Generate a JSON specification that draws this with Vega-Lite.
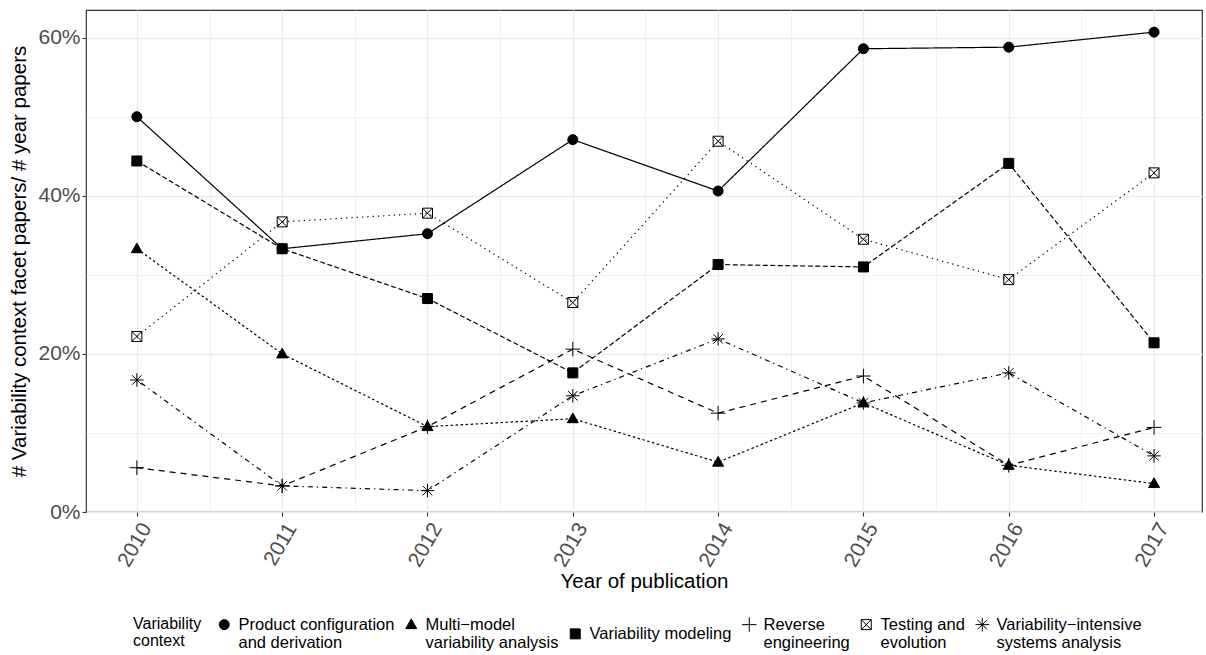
{
  "$schema": "https://vega.github.io/schema/vega-lite/v6.json",
  "width": 1116,
  "height": 502,
  "autosize": {"type": "none"},
  "padding": {"left": 86, "top": 10, "right": 4, "bottom": 143},
  "background": "white",
  "config": {
    "font": "Liberation Sans",
    "view": {"stroke": "#333333", "strokeWidth": 1.2},
    "axis": {
      "domain": false,
      "gridColor": "#EBEBEB",
      "tickColor": "#333333",
      "tickWidth": 1.1,
      "tickSize": 4,
      "labelColor": "#4D4D4D",
      "labelFontSize": 21,
      "titleFontSize": 20.5,
      "titleFontWeight": "normal",
      "titleColor": "#000000"
    },
    "legend": {
      "direction": "horizontal",
      "titleOrient": "left",
      "titleAnchor": "start",
      "titleFontSize": 16,
      "titleFontWeight": "normal",
      "titleColor": "#000000",
      "titlePadding": 14,
      "titleLineHeight": 16.5,
      "titleBaseline": "top",
      "labelFontSize": 16.5,
      "labelColor": "#000000",
      "labelLimit": 400,
      "labelOffset": 6,
      "labelLineHeight": 16.5,
      "labelBaseline": "middle",
      "columnPadding": 8,
      "symbolSize": 100,
      "symbolStrokeColor": "#000000",
      "symbolStrokeWidth": 1
    }
  },
  "data": {
    "values": [
      {"year": 2010, "context": "Product configuration and derivation", "value": 0.500},
      {"year": 2011, "context": "Product configuration and derivation", "value": 0.333},
      {"year": 2012, "context": "Product configuration and derivation", "value": 0.352},
      {"year": 2013, "context": "Product configuration and derivation", "value": 0.471},
      {"year": 2014, "context": "Product configuration and derivation", "value": 0.406},
      {"year": 2015, "context": "Product configuration and derivation", "value": 0.586},
      {"year": 2016, "context": "Product configuration and derivation", "value": 0.588},
      {"year": 2017, "context": "Product configuration and derivation", "value": 0.607},
      {"year": 2010, "context": "Multi-model variability analysis", "value": 0.333},
      {"year": 2011, "context": "Multi-model variability analysis", "value": 0.200},
      {"year": 2012, "context": "Multi-model variability analysis", "value": 0.108},
      {"year": 2013, "context": "Multi-model variability analysis", "value": 0.118},
      {"year": 2014, "context": "Multi-model variability analysis", "value": 0.063},
      {"year": 2015, "context": "Multi-model variability analysis", "value": 0.138},
      {"year": 2016, "context": "Multi-model variability analysis", "value": 0.059},
      {"year": 2017, "context": "Multi-model variability analysis", "value": 0.036},
      {"year": 2010, "context": "Variability modeling", "value": 0.444},
      {"year": 2011, "context": "Variability modeling", "value": 0.333},
      {"year": 2012, "context": "Variability modeling", "value": 0.270},
      {"year": 2013, "context": "Variability modeling", "value": 0.176},
      {"year": 2014, "context": "Variability modeling", "value": 0.313},
      {"year": 2015, "context": "Variability modeling", "value": 0.310},
      {"year": 2016, "context": "Variability modeling", "value": 0.441},
      {"year": 2017, "context": "Variability modeling", "value": 0.214},
      {"year": 2010, "context": "Reverse engineering", "value": 0.056},
      {"year": 2011, "context": "Reverse engineering", "value": 0.033},
      {"year": 2012, "context": "Reverse engineering", "value": 0.108},
      {"year": 2013, "context": "Reverse engineering", "value": 0.206},
      {"year": 2014, "context": "Reverse engineering", "value": 0.125},
      {"year": 2015, "context": "Reverse engineering", "value": 0.172},
      {"year": 2016, "context": "Reverse engineering", "value": 0.059},
      {"year": 2017, "context": "Reverse engineering", "value": 0.107},
      {"year": 2010, "context": "Testing and evolution", "value": 0.222},
      {"year": 2011, "context": "Testing and evolution", "value": 0.367},
      {"year": 2012, "context": "Testing and evolution", "value": 0.378},
      {"year": 2013, "context": "Testing and evolution", "value": 0.265},
      {"year": 2014, "context": "Testing and evolution", "value": 0.469},
      {"year": 2015, "context": "Testing and evolution", "value": 0.345},
      {"year": 2016, "context": "Testing and evolution", "value": 0.294},
      {"year": 2017, "context": "Testing and evolution", "value": 0.429},
      {"year": 2010, "context": "Variability-intensive systems analysis", "value": 0.167},
      {"year": 2011, "context": "Variability-intensive systems analysis", "value": 0.033},
      {"year": 2012, "context": "Variability-intensive systems analysis", "value": 0.027},
      {"year": 2013, "context": "Variability-intensive systems analysis", "value": 0.147},
      {"year": 2014, "context": "Variability-intensive systems analysis", "value": 0.219},
      {"year": 2015, "context": "Variability-intensive systems analysis", "value": 0.138},
      {"year": 2016, "context": "Variability-intensive systems analysis", "value": 0.176},
      {"year": 2017, "context": "Variability-intensive systems analysis", "value": 0.071}
    ]
  },
  "encoding": {
    "x": {
      "field": "year",
      "type": "quantitative",
      "scale": {"domain": [2009.65, 2017.33], "nice": false, "zero": false},
      "axis": {
        "title": "Year of publication",
        "values": [2010, 2010.5, 2011, 2011.5, 2012, 2012.5, 2013, 2013.5, 2014, 2014.5, 2015, 2015.5, 2016, 2016.5, 2017],
        "labelExpr": "datum.value % 1 == 0 ? format(datum.value, 'd') : ''",
        "labelAngle": -60,
        "labelAlign": "right",
        "labelBaseline": "top",
        "labelPadding": 3,
        "titlePadding": 2,
        "tickOpacity": {"condition": {"test": "datum.value % 1 != 0", "value": 0}, "value": 1},
        "gridWidth": {"condition": {"test": "datum.value % 1 != 0", "value": 0.7}, "value": 1.4}
      }
    },
    "y": {
      "field": "value",
      "type": "quantitative",
      "scale": {"domain": [0, 0.635], "nice": false, "zero": false},
      "axis": {
        "title": "# Variability context facet papers/ # year papers",
        "values": [0, 0.1, 0.2, 0.3, 0.4, 0.5, 0.6],
        "labelExpr": "round(datum.value * 10) % 2 == 0 ? format(datum.value, '.0%') : ''",
        "labelPadding": 2,
        "titlePadding": 8,
        "tickOpacity": {"condition": {"test": "round(datum.value * 10) % 2 == 1", "value": 0}, "value": 1},
        "gridWidth": {"condition": {"test": "round(datum.value * 10) % 2 == 1", "value": 0.7}, "value": 1.4}
      }
    }
  },
  "layer": [
    {
      "mark": {"type": "line", "stroke": "#000000", "strokeWidth": 1.2},
      "encoding": {
        "detail": {"field": "context", "type": "nominal"},
        "strokeDash": {
          "field": "context",
          "type": "nominal",
          "scale": {
            "range": [[2.5, 2.5], [1, 0], [6, 5], [1.3, 4], [5, 2.5], [1.3, 4, 5, 4]]
          },
          "legend": null
        }
      }
    },
    {
      "mark": {"type": "point", "strokeWidth": 1, "size": 100, "opacity": 1},
      "encoding": {
        "shape": {
          "field": "context",
          "type": "nominal",
          "scale": {
            "domain": ["Product configuration and derivation", "Multi-model variability analysis", "Variability modeling", "Reverse engineering", "Testing and evolution", "Variability-intensive systems analysis"],
            "range": ["circle", "M0,-1.15L1.1,0.8L-1.1,0.8Z", "square", "M-1.45,0L1.45,0M0,-1.45L0,1.45", "M-1,-1L1,-1L1,1L-1,1ZM-1,-1L1,1M-1,1L1,-1", "M-1.35,0L1.35,0M0,-1.35L0,1.35M-0.95,-0.95L0.95,0.95M-0.95,0.95L0.95,-0.95"]
          },
          "legend": {
            "title": ["Variability", "context"],
            "orient": "none",
            "legendX": 47,
            "legendY": 606,
            "labelExpr": "datum.label == 'Product configuration and derivation' ? ['Product configuration', '\u00a0and derivation'] : datum.label == 'Multi-model variability analysis' ? ['Multi\u2212model', '\u00a0variability analysis'] : datum.label == 'Reverse engineering' ? ['Reverse', 'engineering'] : datum.label == 'Testing and evolution' ? ['Testing and', 'evolution'] : datum.label == 'Variability-intensive systems analysis' ? ['Variability\u2212intensive', '\u00a0systems analysis'] : datum.label"
          }
        },
        "fill": {
          "field": "context",
          "type": "nominal",
          "scale": {
            "domain": ["Product configuration and derivation", "Multi-model variability analysis", "Variability modeling", "Reverse engineering", "Testing and evolution", "Variability-intensive systems analysis"],
            "range": ["#000000", "#000000", "#000000", "transparent", "transparent", "transparent"]
          },
          "legend": {
            "title": ["Variability", "context"],
            "orient": "none",
            "legendX": 47,
            "legendY": 606,
            "labelExpr": "datum.label == 'Product configuration and derivation' ? ['Product configuration', '\u00a0and derivation'] : datum.label == 'Multi-model variability analysis' ? ['Multi\u2212model', '\u00a0variability analysis'] : datum.label == 'Reverse engineering' ? ['Reverse', 'engineering'] : datum.label == 'Testing and evolution' ? ['Testing and', 'evolution'] : datum.label == 'Variability-intensive systems analysis' ? ['Variability\u2212intensive', '\u00a0systems analysis'] : datum.label"
          }
        },
        "stroke": {
          "field": "context",
          "type": "nominal",
          "scale": {
            "domain": ["Product configuration and derivation", "Multi-model variability analysis", "Variability modeling", "Reverse engineering", "Testing and evolution", "Variability-intensive systems analysis"],
            "range": ["#000000", "#000000", "#000000", "#000000", "#000000", "#000000"]
          },
          "legend": {
            "title": ["Variability", "context"],
            "orient": "none",
            "legendX": 47,
            "legendY": 606,
            "labelExpr": "datum.label == 'Product configuration and derivation' ? ['Product configuration', '\u00a0and derivation'] : datum.label == 'Multi-model variability analysis' ? ['Multi\u2212model', '\u00a0variability analysis'] : datum.label == 'Reverse engineering' ? ['Reverse', 'engineering'] : datum.label == 'Testing and evolution' ? ['Testing and', 'evolution'] : datum.label == 'Variability-intensive systems analysis' ? ['Variability\u2212intensive', '\u00a0systems analysis'] : datum.label"
          }
        }
      }
    }
  ]
}
